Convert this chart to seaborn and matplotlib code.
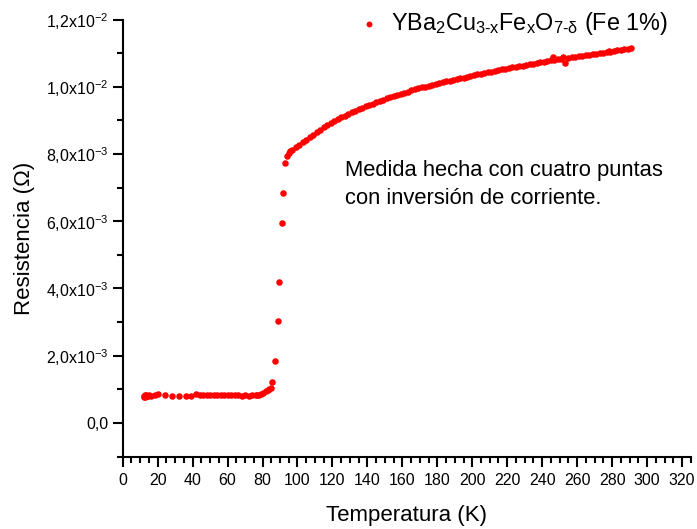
import matplotlib
matplotlib.use("Agg")
import math
import matplotlib.pyplot as plt
import matplotlib.ticker as mticker
import seaborn as sns
import pandas as pd

# ---- data ----
T_low = [12.0, 12.3, 12.6, 13.0, 13.3, 13.6, 14.0, 14.5, 15.0, 16.0, 18.5, 20.4,
         24.2, 28.0, 32.2, 36.0, 38.9, 42.0, 44.0, 46.0, 48.0, 50.0, 52.0, 54.0,
         56.0, 58.0, 60.0, 62.0, 64.0, 66.0, 68.0, 70.0, 72.0, 74.0, 76.0, 77.0,
         78.0, 79.0, 80.5, 82.0, 83.0, 84.0, 85.0]
R_low = [0.80, 0.76, 0.84, 0.78, 0.82, 0.80, 0.79, 0.81, 0.82, 0.81, 0.84, 0.86,
         0.83, 0.79, 0.80, 0.80, 0.81, 0.85, 0.84, 0.83, 0.82, 0.82, 0.82, 0.82,
         0.83, 0.82, 0.83, 0.84, 0.83, 0.82, 0.81, 0.82, 0.81, 0.82, 0.83, 0.82,
         0.84, 0.86, 0.89, 0.95, 0.99, 1.02, 1.04]

T_trans = [85.5, 87.1, 88.7, 89.4, 91.0, 91.5, 93.0, 94.2, 95.0]
R_trans = [1.21, 1.83, 3.02, 4.20, 5.96, 6.83, 7.74, 7.95, 8.02]

T_high = [95.7, 97, 99, 101, 103, 105, 107, 109, 111, 113, 115, 117, 119, 121,
          123, 125, 127, 129, 131, 133, 135, 137, 139, 141, 143, 145, 147, 149,
          151, 153, 155, 157, 159, 161, 163, 165, 167, 169, 171, 173, 175, 177,
          179, 181, 183, 185, 187, 189, 191, 193, 195, 197, 199, 201, 203, 205,
          207, 209, 211, 213, 215, 217, 219, 221, 223, 225, 227, 229, 231, 233,
          235, 237, 239, 241, 243, 245, 246, 247, 249, 251, 252, 253, 255, 257,
          259, 261, 263, 265, 267, 269, 271, 273, 275, 277, 278, 279, 281, 283,
          285, 287, 289, 291]
R_high = [8.08, 8.12, 8.20, 8.28, 8.36, 8.43, 8.50, 8.58, 8.65, 8.72, 8.79, 8.86,
          8.93, 8.99, 9.04, 9.09, 9.14, 9.19, 9.24, 9.29, 9.33, 9.38, 9.42, 9.46,
          9.50, 9.55, 9.59, 9.62, 9.66, 9.69, 9.73, 9.76, 9.80, 9.83, 9.86, 9.89,
          9.92, 9.95, 9.98, 10.00, 10.03, 10.06, 10.08, 10.11, 10.13, 10.16, 10.18,
          10.20, 10.23, 10.25, 10.27, 10.30, 10.32, 10.34, 10.37, 10.39, 10.41,
          10.43, 10.45, 10.47, 10.50, 10.52, 10.54, 10.56, 10.58, 10.60, 10.62,
          10.63, 10.65, 10.67, 10.69, 10.71, 10.73, 10.75, 10.77, 10.79, 10.89,
          10.80, 10.82, 10.83, 10.90, 10.70, 10.86, 10.88, 10.90, 10.91, 10.93,
          10.95, 10.96, 10.98, 10.99, 11.01, 11.02, 11.04, 11.07, 11.05, 11.07,
          11.08, 11.10, 11.12, 11.13, 11.14]

x_ticks = list(range(0, 321, 20))
y_ticks = [0.0, 2e-3, 4e-3, 6e-3, 8e-3, 1.0e-2, 1.2e-2]

legend_label = r"YBa$_\mathrm{2}$Cu$_\mathrm{3\text{-}x}$Fe$_\mathrm{x}$O$_\mathrm{7\text{-}\delta}$ (Fe 1%)"
note_text = "Medida hecha con cuatro puntas\ncon inversión de corriente."

T_all = T_low + T_trans + T_high
R_all = [r * 1e-3 for r in (R_low + R_trans + R_high)]
df = pd.DataFrame({"T": T_all, "R": R_all})

# ---- style ----
sns.set_style("ticks")
plt.rcParams["font.family"] = ["Liberation Sans", "DejaVu Sans"]
plt.rcParams["mathtext.fontset"] = "custom"
plt.rcParams["mathtext.rm"] = "Liberation Sans"
plt.rcParams["mathtext.it"] = "Liberation Sans"
plt.rcParams["mathtext.bf"] = "Liberation Sans:bold"
plt.rcParams["text.color"] = "black"
plt.rcParams["axes.labelcolor"] = "black"
plt.rcParams["xtick.color"] = "black"
plt.rcParams["ytick.color"] = "black"

fig = plt.figure(figsize=(6.97, 5.29), dpi=100)
ax = fig.add_axes([0.176, 0.137, 0.815, 0.826])

sns.scatterplot(data=df, x="T", y="R", ax=ax, color="#ff0000", s=22,
                linewidth=0, label=legend_label, zorder=3)

ax.set_xlim(0, 325)
ax.set_ylim(-1e-3, 1.2e-2)
ax.set_xticks(x_ticks)
ax.set_yticks(y_ticks)
ax.xaxis.set_minor_locator(mticker.MultipleLocator(5))
ax.yaxis.set_minor_locator(mticker.MultipleLocator(1e-3))


def yfmt(v, pos):
    if abs(v) < 1e-12:
        return "0,0"
    e = int(math.floor(math.log10(abs(v)) + 1e-9))
    m = v / 10 ** e
    return ("%.1f" % m).replace(".", ",") + r"x10$^{\mathrm{%d}}$" % e


ax.yaxis.set_major_formatter(mticker.FuncFormatter(yfmt))

for s in ["top", "right"]:
    ax.spines[s].set_visible(False)
for s in ["left", "bottom"]:
    ax.spines[s].set_linewidth(1.5)
    ax.spines[s].set_color("black")

ax.tick_params(which="major", length=7, width=1.5, direction="out",
               labelsize=11.5, pad=3)
ax.tick_params(axis="x", which="major", pad=5)
ax.tick_params(which="minor", length=4, width=1.5, direction="out")

ax.set_xlabel("Temperatura (K)", fontsize=16, labelpad=12)
ax.set_ylabel("Resistencia (Ω)", fontsize=16, labelpad=8)

ax.text(127, 7.82e-3, note_text, fontsize=15.8, va="top", ha="left",
        linespacing=1.45)

leg = ax.legend(loc="center right", bbox_to_anchor=(0.975, 0.956),
                bbox_transform=fig.transFigure, frameon=False, fontsize=16.8,
                handletextpad=0.3, handlelength=1.3, borderpad=0,
                markerscale=0.9)

fig.savefig("out.png", dpi=100)
